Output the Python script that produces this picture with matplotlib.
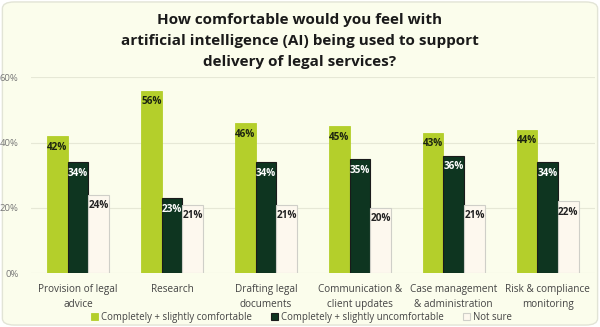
import numpy as np
import matplotlib.pyplot as plt
from matplotlib.patches import FancyBboxPatch

# ---------------------------
# Data
# ---------------------------
categories = [
    "Provision of legal\nadvice",
    "Research",
    "Drafting legal\ndocuments",
    "Communication &\nclient updates",
    "Case management\n& administration",
    "Risk & compliance\nmonitoring",
]
comfortable = [42, 56, 46, 45, 43, 44]
uncomfortable = [34, 23, 34, 35, 36, 34]
not_sure = [24, 21, 21, 20, 21, 22]

series_names = [
    "Completely + slightly comfortable",
    "Completely + slightly uncomfortable",
    "Not sure",
]
y_ticks = [0, 20, 40, 60]

GREEN = "#b4cf2b"
DARK = "#0e3520"
CREAM = "#fdf8ee"
BG = "#fbfdec"

plt.rcParams["font.family"] = ["Open Sans", "DejaVu Sans"]

fig = plt.figure(figsize=(6.0, 3.27), dpi=100)
fig.patch.set_facecolor("white")

# rounded card behind everything
card = FancyBboxPatch((0.004, 0.006), 0.992, 0.988,
                      boxstyle="round,pad=0,rounding_size=0.02",
                      transform=fig.transFigure, facecolor=BG,
                      edgecolor="#e2e4d6", linewidth=1.0, zorder=-10)
fig.patches.append(card)

ax = fig.add_axes([0.052, 0.165, 0.939, 0.598])
ax.set_facecolor("none")

x = np.arange(len(categories))
w = 0.22

b1 = ax.bar(x - w, comfortable, w, color=GREEN, edgecolor=GREEN,
            linewidth=0.6, zorder=3, label=series_names[0])
b2 = ax.bar(x, uncomfortable, w, color=DARK, edgecolor="#1b1b1b",
            linewidth=0.8, zorder=3, label=series_names[1])
b3 = ax.bar(x + w, not_sure, w, color=CREAM, edgecolor="#cfcfc8",
            linewidth=0.8, zorder=3, label=series_names[2])

# value labels inside the top of each bar
for bars, vals, col in [(b1, comfortable, "#1c2410"),
                        (b2, uncomfortable, "white"),
                        (b3, not_sure, "#222222")]:
    for bar, v in zip(bars, vals):
        ax.annotate(f"{v}%", (bar.get_x() + bar.get_width() / 2, v),
                    xytext=(0, -4), textcoords="offset points",
                    ha="center", va="top", fontsize=7.2,
                    fontweight="bold", color=col, zorder=4)

ax.set_xlim(-0.5, len(categories) - 0.5)
ax.set_ylim(0, 60)
ax.set_yticks(y_ticks)
ax.set_yticklabels([f"{t}%" for t in y_ticks])
ax.set_xticks(x)
ax.set_xticklabels(categories, fontsize=7.2, color="#444444",
                   linespacing=1.45)
ax.tick_params(axis="x", length=0, pad=8)
ax.tick_params(axis="y", length=0, pad=9, labelsize=6.8,
               labelcolor="#777777")
ax.grid(axis="y", color="#e6e8d6", linewidth=0.8, zorder=0)
ax.set_axisbelow(True)
for s in ax.spines.values():
    s.set_visible(False)

fig.text(0.5, 0.96,
         "How comfortable would you feel with\n"
         "artificial intelligence (AI) being used to support\n"
         "delivery of legal services?",
         ha="center", va="top", fontsize=11, fontweight="bold",
         color="#1a1a1a", linespacing=1.62)

leg = fig.legend(handles=[b1, b2, b3], labels=series_names,
                 loc="center", bbox_to_anchor=(0.503, 0.03), ncol=3,
                 frameon=False, fontsize=6.9, handlelength=0.7,
                 handleheight=0.7, handletextpad=0.35, columnspacing=2.0)
for t in leg.get_texts():
    t.set_color("#444444")

fig.savefig("out.png", dpi=100, facecolor=fig.get_facecolor())
